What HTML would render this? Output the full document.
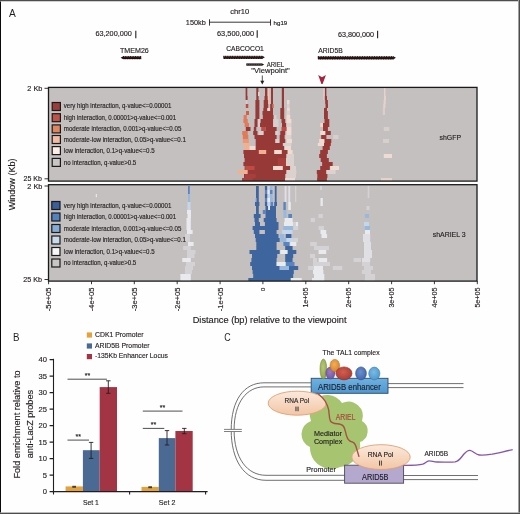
<!DOCTYPE html>
<html><head><meta charset="utf-8">
<style>
html,body{margin:0;padding:0;background:#fff;overflow:hidden;}
svg{display:block;font-family:"Liberation Sans",sans-serif;will-change:transform;}
text{font-family:"Liberation Sans",sans-serif;fill:#231f20;stroke:#231f20;stroke-width:0.15px;}
</style></head><body>
<svg width="520" height="514" viewBox="0 0 520 514">
<rect x="0" y="0" width="520" height="514" fill="#fefefe"/>

<!-- ===== PANEL A header ===== -->
<text style="stroke:none" x="9" y="16.7" font-size="10.5" textLength="6.8" lengthAdjust="spacingAndGlyphs">A</text>
<text x="230.3" y="14.2" font-size="7.2" textLength="18.9" lengthAdjust="spacingAndGlyphs">chr10</text>
<text x="185.8" y="25" font-size="7.6" textLength="20" lengthAdjust="spacingAndGlyphs">150kb</text>
<g stroke="#231f20" stroke-width="0.9" fill="none">
<line x1="209.5" y1="22.2" x2="270.5" y2="22.2"/>
<line x1="209.5" y1="19.3" x2="209.5" y2="25.6"/>
<line x1="270.5" y1="19.3" x2="270.5" y2="25.6"/>
</g>
<text x="273.6" y="24.6" font-size="6" textLength="13.7" lengthAdjust="spacingAndGlyphs">hg19</text>

<text x="95.4" y="36.3" font-size="7.2" textLength="36.5" lengthAdjust="spacingAndGlyphs">63,200,000</text>
<text x="217" y="36" font-size="7.2" textLength="37" lengthAdjust="spacingAndGlyphs">63,500,000</text>
<text x="338" y="36.5" font-size="7.2" textLength="36" lengthAdjust="spacingAndGlyphs">63,800,000</text>
<g stroke="#231f20" stroke-width="1.1">
<line x1="135.8" y1="30.8" x2="135.8" y2="38.2"/>
<line x1="257.2" y1="30.3" x2="257.2" y2="37.7"/>
<line x1="377.6" y1="30.8" x2="377.6" y2="38.2"/>
</g>

<text x="120" y="53.2" font-size="7.3" textLength="28.8" lengthAdjust="spacingAndGlyphs">TMEM26</text>
<text x="226.3" y="51.3" font-size="7.3" textLength="37.5" lengthAdjust="spacingAndGlyphs">CABCOCO1</text>
<text x="318.3" y="53.2" font-size="7.3" textLength="24.4" lengthAdjust="spacingAndGlyphs">ARID5B</text>

<!-- gene bars -->
<rect x="123.0" y="56.80" width="18.2" height="2.2" fill="#3a1517"/>
<line x1="123.0" y1="56.65" x2="141.2" y2="56.65" stroke="#0c0404" stroke-width="1" stroke-dasharray="1.2 0.5"/>
<line x1="123.5" y1="58.75" x2="141.2" y2="58.75" stroke="#0c0404" stroke-width="1" stroke-dasharray="1.2 0.5"/>
<path d="M123.3 56.20 L120.6 57.70 L123.3 59.20 Z" fill="#1a0c0c"/>
<rect x="223.3" y="56.45" width="39.2" height="2.2" fill="#3a1517"/>
<line x1="223.3" y1="56.30" x2="262.5" y2="56.30" stroke="#0c0404" stroke-width="1" stroke-dasharray="1.2 0.5"/>
<line x1="223.8" y1="58.40" x2="262.5" y2="58.40" stroke="#0c0404" stroke-width="1" stroke-dasharray="1.2 0.5"/>
<path d="M262.2 55.85 L264.9 57.35 L262.2 58.85 Z" fill="#1a0c0c"/>
<rect x="317.8" y="56.95" width="75.7" height="2.2" fill="#3a1517"/>
<line x1="317.8" y1="56.70" x2="393.5" y2="56.70" stroke="#0c0404" stroke-width="1" stroke-dasharray="1.2 0.5"/>
<line x1="318.3" y1="59.00" x2="393.5" y2="59.00" stroke="#0c0404" stroke-width="1" stroke-dasharray="1.2 0.5"/>
<path d="M393.2 56.25 L395.9 57.85 L393.2 59.45 Z" fill="#1a0c0c"/>
<rect x="246.3" y="63.4" width="15.5" height="2.3" fill="#1e1414"/>
<line x1="247" y1="64.55" x2="261" y2="64.55" stroke="#6a6060" stroke-width="0.7" stroke-dasharray="1.2 0.6"/>
<path d="M261.6 63.2 L264.2 64.55 L261.6 65.9 Z" fill="#1e1414"/>
<text x="266.7" y="67" font-size="7" textLength="17.3" lengthAdjust="spacingAndGlyphs">ARIEL</text>
<text x="251.3" y="73" font-size="7.2" textLength="38.5" lengthAdjust="spacingAndGlyphs">"Viewpoint"</text>
<line x1="262.3" y1="75.5" x2="262.3" y2="83" stroke="#231f20" stroke-width="0.8"/>
<path d="M260.3 80.8 L262.3 84.4 L264.3 80.8 Z" fill="#231f20"/>
<!-- red chevron -->
<path d="M318.2 74.9 L322 77.3 L325.9 74.9 L322.6 84.1 L321.4 84.1 Z" fill="#a8203a"/>

<!-- ===== heatmap boxes ===== -->
<clipPath id="c1"><rect x="48.5" y="87.4" width="428.5" height="93.7"/></clipPath>
<clipPath id="c2"><rect x="48.5" y="184.7" width="428.5" height="96.4"/></clipPath>
<g id="hm1" clip-path="url(#c1)">
<rect x="48.5" y="87.4" width="428.5" height="93.7" fill="#c5c0c0"/>
<!--HM1-->
<rect x="245.6" y="88" width="1.7" height="4" fill="#973a37"/>
<rect x="256.3" y="88" width="2.1" height="4" fill="#973a37"/>
<rect x="265.0" y="88" width="2.4" height="4" fill="#973a37"/>
<rect x="267.8" y="88" width="1.5" height="4" fill="#eec6b2"/>
<rect x="271.0" y="88" width="2.0" height="4" fill="#973a37"/>
<rect x="281.8" y="88" width="2.2" height="4" fill="#973a37"/>
<rect x="324.8" y="88" width="1.6" height="4" fill="#973a37"/>
<rect x="323.6" y="88" width="0.9" height="4" fill="#eedcd3"/>
<rect x="384.0" y="88" width="1.5" height="4" fill="#e6d2c8"/>
<rect x="245.6" y="92" width="1.7" height="4" fill="#973a37"/>
<rect x="256.3" y="92" width="1.9" height="4" fill="#973a37"/>
<rect x="258.2" y="92" width="1.2" height="4" fill="#eedcd3"/>
<rect x="265.0" y="92" width="2.4" height="4" fill="#973a37"/>
<rect x="267.8" y="92" width="1.5" height="4" fill="#eec6b2"/>
<rect x="271.0" y="92" width="2.0" height="4" fill="#973a37"/>
<rect x="281.8" y="92" width="2.2" height="4" fill="#973a37"/>
<rect x="324.8" y="92" width="1.6" height="4" fill="#973a37"/>
<rect x="323.6" y="92" width="0.9" height="4" fill="#eedcd3"/>
<rect x="384.0" y="92" width="1.5" height="4" fill="#e6d2c8"/>
<rect x="245.6" y="96" width="2.0" height="4" fill="#973a37"/>
<rect x="256.3" y="96" width="2.3" height="4" fill="#973a37"/>
<rect x="264.5" y="96" width="3.3" height="4" fill="#973a37"/>
<rect x="267.8" y="96" width="1.5" height="4" fill="#eec6b2"/>
<rect x="271.0" y="96" width="2.0" height="4" fill="#973a37"/>
<rect x="281.8" y="96" width="2.2" height="4" fill="#973a37"/>
<rect x="324.5" y="96" width="2.5" height="4" fill="#973a37"/>
<rect x="323.6" y="96" width="0.9" height="4" fill="#eedcd3"/>
<rect x="384.0" y="96" width="2.0" height="4" fill="#e6d2c8"/>
<rect x="245.8" y="100" width="1.5" height="4" fill="#d6cfcd"/>
<rect x="255.4" y="100" width="4.0" height="4" fill="#973a37"/>
<rect x="263.7" y="100" width="4.5" height="4" fill="#973a37"/>
<rect x="268.2" y="100" width="1.4" height="4" fill="#eec6b2"/>
<rect x="271.0" y="100" width="2.0" height="4" fill="#973a37"/>
<rect x="281.8" y="100" width="2.2" height="4" fill="#973a37"/>
<rect x="287.0" y="100" width="2.5" height="4" fill="#eedcd3"/>
<rect x="325.2" y="100" width="2.7" height="4" fill="#973a37"/>
<rect x="383.6" y="100" width="2.2" height="4" fill="#e6d2c8"/>
<rect x="245.8" y="104" width="2.5" height="4" fill="#bf4b42"/>
<rect x="255.4" y="104" width="4.0" height="4" fill="#973a37"/>
<rect x="263.7" y="104" width="4.5" height="4" fill="#973a37"/>
<rect x="270.2" y="104" width="2.5" height="4" fill="#973a37"/>
<rect x="272.7" y="104" width="1.3" height="4" fill="#e07a58"/>
<rect x="281.8" y="104" width="2.2" height="4" fill="#973a37"/>
<rect x="287.0" y="104" width="2.5" height="4" fill="#dbd1cd"/>
<rect x="325.5" y="104" width="2.5" height="4" fill="#973a37"/>
<rect x="383.2" y="104" width="2.2" height="4" fill="#e6d2c8"/>
<rect x="255.4" y="108" width="4.0" height="3" fill="#973a37"/>
<rect x="263.3" y="108" width="4.1" height="3" fill="#973a37"/>
<rect x="267.4" y="108" width="2.4" height="3" fill="#eedcd3"/>
<rect x="270.2" y="108" width="2.8" height="3" fill="#973a37"/>
<rect x="280.3" y="108" width="3.9" height="3" fill="#973a37"/>
<rect x="287.0" y="108" width="2.8" height="3" fill="#eedcd3"/>
<rect x="324.0" y="108" width="3.0" height="3" fill="#973a37"/>
<rect x="382.8" y="108" width="2.2" height="3" fill="#dccfca"/>
<rect x="246.0" y="111" width="3.0" height="4" fill="#d4603f"/>
<rect x="255.4" y="111" width="4.0" height="4" fill="#973a37"/>
<rect x="262.5" y="111" width="10.5" height="4" fill="#973a37"/>
<rect x="280.3" y="111" width="3.9" height="4" fill="#973a37"/>
<rect x="286.5" y="111" width="3.5" height="4" fill="#dbd1cd"/>
<rect x="324.0" y="111" width="3.9" height="4" fill="#973a37"/>
<rect x="382.8" y="111" width="2.2" height="4" fill="#dccfca"/>
<rect x="243.6" y="115" width="3.2" height="4" fill="#e07a58"/>
<rect x="255.4" y="115" width="4.0" height="4" fill="#973a37"/>
<rect x="262.8" y="115" width="10.7" height="4" fill="#973a37"/>
<rect x="274.0" y="115" width="2.5" height="4" fill="#d6cfcd"/>
<rect x="280.3" y="115" width="3.9" height="4" fill="#973a37"/>
<rect x="286.5" y="115" width="3.7" height="4" fill="#eedcd3"/>
<rect x="324.0" y="115" width="3.9" height="4" fill="#973a37"/>
<rect x="243.4" y="119" width="4.3" height="4" fill="#e07a58"/>
<rect x="254.5" y="119" width="3.0" height="4" fill="#973a37"/>
<rect x="258.0" y="119" width="2.6" height="4" fill="#d6cfcd"/>
<rect x="260.6" y="119" width="12.4" height="4" fill="#973a37"/>
<rect x="273.5" y="119" width="5.0" height="4" fill="#d6cfcd"/>
<rect x="281.5" y="119" width="3.7" height="4" fill="#973a37"/>
<rect x="286.5" y="119" width="4.9" height="4" fill="#eedcd3"/>
<rect x="324.5" y="119" width="4.8" height="4" fill="#973a37"/>
<rect x="244.6" y="123" width="4.4" height="4" fill="#e07a58"/>
<rect x="254.5" y="123" width="3.0" height="4" fill="#973a37"/>
<rect x="258.0" y="123" width="2.0" height="4" fill="#d6cfcd"/>
<rect x="260.0" y="123" width="13.0" height="4" fill="#973a37"/>
<rect x="273.5" y="123" width="5.0" height="4" fill="#d6cfcd"/>
<rect x="282.0" y="123" width="4.0" height="4" fill="#973a37"/>
<rect x="287.0" y="123" width="4.4" height="4" fill="#dbd1cd"/>
<rect x="320.2" y="123" width="2.8" height="4" fill="#f6d6c6"/>
<rect x="323.0" y="123" width="6.3" height="4" fill="#973a37"/>
<rect x="245.8" y="127" width="4.7" height="4" fill="#973a37"/>
<rect x="253.8" y="127" width="2.5" height="4" fill="#973a37"/>
<rect x="261.2" y="127" width="4.3" height="4" fill="#bf4b42"/>
<rect x="265.5" y="127" width="11.1" height="4" fill="#973a37"/>
<rect x="281.5" y="127" width="5.0" height="4" fill="#bf4b42"/>
<rect x="287.0" y="127" width="4.4" height="4" fill="#eedcd3"/>
<rect x="323.0" y="127" width="4.9" height="4" fill="#973a37"/>
<rect x="383.8" y="127" width="5.5" height="4" fill="#d6cfcd"/>
<rect x="242.2" y="131" width="5.5" height="4" fill="#e07a58"/>
<rect x="253.2" y="131" width="4.3" height="4" fill="#973a37"/>
<rect x="258.8" y="131" width="4.9" height="4" fill="#d6cfcd"/>
<rect x="263.7" y="131" width="11.7" height="4" fill="#973a37"/>
<rect x="275.4" y="131" width="3.1" height="4" fill="#d6cfcd"/>
<rect x="280.3" y="131" width="4.9" height="4" fill="#973a37"/>
<rect x="286.5" y="131" width="4.9" height="4" fill="#eedcd3"/>
<rect x="320.2" y="131" width="4.8" height="4" fill="#eedcd3"/>
<rect x="325.5" y="131" width="5.3" height="4" fill="#973a37"/>
<rect x="242.8" y="135" width="5.5" height="4" fill="#e07a58"/>
<rect x="254.5" y="135" width="22.1" height="4" fill="#973a37"/>
<rect x="279.7" y="135" width="4.9" height="4" fill="#973a37"/>
<rect x="285.5" y="135" width="5.9" height="4" fill="#dbd1cd"/>
<rect x="321.2" y="135" width="5.2" height="4" fill="#973a37"/>
<rect x="333.2" y="135" width="5.3" height="4" fill="#d6cfcd"/>
<rect x="242.8" y="139" width="6.1" height="4" fill="#e89878"/>
<rect x="255.7" y="139" width="19.7" height="4" fill="#973a37"/>
<rect x="275.4" y="139" width="3.6" height="4" fill="#d6cfcd"/>
<rect x="279.7" y="139" width="5.5" height="4" fill="#973a37"/>
<rect x="286.5" y="139" width="5.5" height="4" fill="#eedcd3"/>
<rect x="319.2" y="139" width="5.3" height="4" fill="#eedcd3"/>
<rect x="324.5" y="139" width="6.8" height="4" fill="#973a37"/>
<rect x="383.0" y="139" width="6.0" height="4" fill="#d6cfcd"/>
<rect x="243.4" y="143" width="6.1" height="3" fill="#f0b091"/>
<rect x="255.7" y="143" width="27.1" height="3" fill="#973a37"/>
<rect x="283.4" y="143" width="8.0" height="3" fill="#dbd1cd"/>
<rect x="317.8" y="143" width="6.2" height="3" fill="#eedcd3"/>
<rect x="324.0" y="143" width="6.8" height="3" fill="#973a37"/>
<rect x="244.6" y="146" width="4.9" height="4" fill="#f0b091"/>
<rect x="249.5" y="146" width="6.2" height="4" fill="#eedcd3"/>
<rect x="255.7" y="146" width="28.3" height="4" fill="#973a37"/>
<rect x="285.0" y="146" width="6.0" height="4" fill="#eedcd3"/>
<rect x="322.6" y="146" width="7.2" height="4" fill="#973a37"/>
<rect x="243.4" y="150" width="44.3" height="4" fill="#973a37"/>
<rect x="258.8" y="150" width="7.4" height="4" fill="#f0b091"/>
<rect x="274.2" y="150" width="7.6" height="4" fill="#eedcd3"/>
<rect x="287.7" y="150" width="4.9" height="4" fill="#eedcd3"/>
<rect x="320.2" y="150" width="7.7" height="4" fill="#973a37"/>
<rect x="244.0" y="154" width="42.5" height="4" fill="#973a37"/>
<rect x="286.5" y="154" width="7.5" height="4" fill="#dbd1cd"/>
<rect x="319.2" y="154" width="7.7" height="4" fill="#973a37"/>
<rect x="383.8" y="154" width="8.2" height="4" fill="#eedcd3"/>
<rect x="244.6" y="158" width="41.4" height="4" fill="#973a37"/>
<rect x="277.8" y="158" width="8.0" height="4" fill="#a83f3d"/>
<rect x="286.0" y="158" width="8.0" height="4" fill="#dbd1cd"/>
<rect x="320.7" y="158" width="8.1" height="4" fill="#973a37"/>
<rect x="243.4" y="162" width="42.4" height="4" fill="#973a37"/>
<rect x="277.8" y="162" width="8.0" height="4" fill="#a83f3d"/>
<rect x="286.0" y="162" width="8.0" height="4" fill="#dbd1cd"/>
<rect x="322.1" y="162" width="10.6" height="4" fill="#973a37"/>
<rect x="244.6" y="166" width="45.6" height="4" fill="#973a37"/>
<rect x="245.2" y="166" width="9.3" height="4" fill="#bf4b42"/>
<rect x="273.0" y="166" width="9.8" height="4" fill="#eedcd3"/>
<rect x="290.2" y="166" width="5.8" height="4" fill="#dbd1cd"/>
<rect x="320.2" y="166" width="9.6" height="4" fill="#973a37"/>
<rect x="330.3" y="166" width="8.7" height="4" fill="#eedcd3"/>
<rect x="237.8" y="170" width="9.9" height="4" fill="#f0b091"/>
<rect x="247.7" y="170" width="38.8" height="4" fill="#973a37"/>
<rect x="286.5" y="170" width="9.8" height="4" fill="#dbd1cd"/>
<rect x="316.8" y="170" width="9.6" height="4" fill="#973a37"/>
<rect x="326.4" y="170" width="9.2" height="4" fill="#dbd1cd"/>
<rect x="244.0" y="174" width="41.2" height="4" fill="#973a37"/>
<rect x="245.0" y="174" width="10.7" height="4" fill="#a83f3d"/>
<rect x="286.0" y="174" width="10.0" height="4" fill="#dbd1cd"/>
<rect x="317.3" y="174" width="10.1" height="4" fill="#973a37"/>
<rect x="242.2" y="178" width="43.0" height="4" fill="#973a37"/>
<rect x="242.2" y="178" width="10.4" height="4" fill="#a83f3d"/>
<rect x="285.2" y="178" width="9.8" height="4" fill="#eedcd3"/>
<rect x="317.1" y="178" width="9.8" height="4" fill="#973a37"/>
<rect x="381.0" y="178" width="11.0" height="4" fill="#e6d2c8"/>
<!--/HM1-->
</g>
<g id="hm2" clip-path="url(#c2)">
<rect x="48.5" y="184.7" width="428.5" height="96.4" fill="#c5c0c0"/>
<!--HM2-->
<rect x="256.0" y="186" width="2.8" height="4" fill="#3f659f"/>
<rect x="264.9" y="186" width="2.3" height="4" fill="#3f659f"/>
<rect x="267.6" y="186" width="2.0" height="4" fill="#c4d6ec"/>
<rect x="270.0" y="186" width="2.5" height="4" fill="#98b8dc"/>
<rect x="274.8" y="186" width="1.8" height="4" fill="#3f659f"/>
<rect x="284.6" y="186" width="1.9" height="4" fill="#dfdfe4"/>
<rect x="288.3" y="186" width="1.9" height="4" fill="#dfdfe4"/>
<rect x="295.0" y="186" width="1.3" height="4" fill="#d4d2d5"/>
<rect x="188.0" y="186" width="1.8" height="4" fill="#5a84c0"/>
<rect x="320.0" y="186" width="2.0" height="4" fill="#d4d2d5"/>
<rect x="367.7" y="186" width="1.6" height="4" fill="#d4d2d5"/>
<rect x="256.0" y="190" width="2.8" height="4" fill="#3f659f"/>
<rect x="264.9" y="190" width="2.3" height="4" fill="#5a84c0"/>
<rect x="267.6" y="190" width="2.0" height="4" fill="#e9eaee"/>
<rect x="270.0" y="190" width="2.5" height="4" fill="#5a84c0"/>
<rect x="274.8" y="190" width="1.8" height="4" fill="#3f659f"/>
<rect x="284.6" y="190" width="1.9" height="4" fill="#dfdfe4"/>
<rect x="288.3" y="190" width="1.9" height="4" fill="#dfdfe4"/>
<rect x="295.0" y="190" width="1.3" height="4" fill="#d4d2d5"/>
<rect x="188.0" y="190" width="1.8" height="4" fill="#5a84c0"/>
<rect x="367.7" y="190" width="1.6" height="4" fill="#d4d2d5"/>
<rect x="256.0" y="194" width="2.8" height="4" fill="#3f659f"/>
<rect x="264.9" y="194" width="2.5" height="4" fill="#3f659f"/>
<rect x="267.6" y="194" width="2.4" height="4" fill="#c4d6ec"/>
<rect x="270.0" y="194" width="2.5" height="4" fill="#98b8dc"/>
<rect x="274.8" y="194" width="1.8" height="4" fill="#3f659f"/>
<rect x="284.6" y="194" width="1.9" height="4" fill="#dfdfe4"/>
<rect x="288.3" y="194" width="1.9" height="4" fill="#dfdfe4"/>
<rect x="295.0" y="194" width="1.3" height="4" fill="#d4d2d5"/>
<rect x="188.0" y="194" width="2.0" height="4" fill="#98b8dc"/>
<rect x="367.7" y="194" width="1.6" height="4" fill="#d4d2d5"/>
<rect x="255.0" y="198" width="1.5" height="4" fill="#98b8dc"/>
<rect x="256.5" y="198" width="2.3" height="4" fill="#3f659f"/>
<rect x="264.9" y="198" width="2.5" height="4" fill="#5a84c0"/>
<rect x="267.4" y="198" width="2.6" height="4" fill="#e9eaee"/>
<rect x="270.0" y="198" width="2.9" height="4" fill="#98b8dc"/>
<rect x="274.8" y="198" width="1.8" height="4" fill="#3f659f"/>
<rect x="284.6" y="198" width="1.9" height="4" fill="#dfdfe4"/>
<rect x="288.3" y="198" width="1.9" height="4" fill="#dfdfe4"/>
<rect x="295.0" y="198" width="1.3" height="4" fill="#d4d2d5"/>
<rect x="188.0" y="198" width="2.0" height="4" fill="#98b8dc"/>
<rect x="320.5" y="198" width="2.3" height="4" fill="#e9eaee"/>
<rect x="255.0" y="202" width="4.4" height="4" fill="#3f659f"/>
<rect x="264.9" y="202" width="2.5" height="4" fill="#3f659f"/>
<rect x="267.4" y="202" width="3.1" height="4" fill="#c4d6ec"/>
<rect x="270.5" y="202" width="2.5" height="4" fill="#5a84c0"/>
<rect x="274.2" y="202" width="2.8" height="4" fill="#3f659f"/>
<rect x="283.4" y="202" width="2.4" height="4" fill="#5a84c0"/>
<rect x="288.3" y="202" width="2.5" height="4" fill="#e9eaee"/>
<rect x="187.5" y="202" width="3.0" height="4" fill="#c4d6ec"/>
<rect x="320.5" y="202" width="2.3" height="4" fill="#e9eaee"/>
<rect x="256.0" y="206" width="2.8" height="4" fill="#3f659f"/>
<rect x="265.5" y="206" width="2.7" height="4" fill="#3f659f"/>
<rect x="268.2" y="206" width="1.8" height="4" fill="#e9eaee"/>
<rect x="270.0" y="206" width="6.0" height="4" fill="#3f659f"/>
<rect x="283.4" y="206" width="2.4" height="4" fill="#5a84c0"/>
<rect x="288.3" y="206" width="2.5" height="4" fill="#e9eaee"/>
<rect x="187.5" y="206" width="3.0" height="4" fill="#c4d6ec"/>
<rect x="366.5" y="206" width="3.0" height="4" fill="#d4d2d5"/>
<rect x="256.0" y="210" width="2.8" height="4" fill="#3f659f"/>
<rect x="262.8" y="210" width="2.7" height="4" fill="#5a84c0"/>
<rect x="265.5" y="210" width="10.5" height="4" fill="#3f659f"/>
<rect x="283.4" y="210" width="3.1" height="4" fill="#98b8dc"/>
<rect x="187.0" y="210" width="4.0" height="4" fill="#e9eaee"/>
<rect x="253.8" y="214" width="6.8" height="4" fill="#3f659f"/>
<rect x="265.5" y="214" width="10.5" height="4" fill="#3f659f"/>
<rect x="283.4" y="214" width="3.1" height="4" fill="#98b8dc"/>
<rect x="288.3" y="214" width="3.7" height="4" fill="#5a84c0"/>
<rect x="187.5" y="214" width="3.5" height="4" fill="#e9eaee"/>
<rect x="364.9" y="214" width="4.1" height="4" fill="#98b8dc"/>
<rect x="318.5" y="214" width="4.3" height="4" fill="#d4d2d5"/>
<rect x="254.5" y="218" width="4.3" height="4" fill="#3f659f"/>
<rect x="263.7" y="218" width="12.9" height="4" fill="#3f659f"/>
<rect x="284.6" y="218" width="8.0" height="4" fill="#e9eaee"/>
<rect x="186.5" y="218" width="4.3" height="4" fill="#e9eaee"/>
<rect x="310.7" y="218" width="4.2" height="4" fill="#d4d2d5"/>
<rect x="255.0" y="222" width="5.0" height="4" fill="#3f659f"/>
<rect x="264.9" y="222" width="13.6" height="4" fill="#3f659f"/>
<rect x="284.0" y="222" width="9.2" height="4" fill="#e9eaee"/>
<rect x="293.2" y="222" width="5.0" height="4" fill="#d4d2d5"/>
<rect x="186.5" y="222" width="4.3" height="4" fill="#e9eaee"/>
<rect x="364.0" y="222" width="5.0" height="4" fill="#c4d6ec"/>
<rect x="296.0" y="222" width="2.0" height="4" fill="#e9eaee"/>
<rect x="252.6" y="226" width="25.9" height="4" fill="#3f659f"/>
<rect x="283.4" y="226" width="9.8" height="4" fill="#98b8dc"/>
<rect x="293.2" y="226" width="5.0" height="4" fill="#d4d2d5"/>
<rect x="186.5" y="226" width="4.3" height="4" fill="#e9eaee"/>
<rect x="365.0" y="226" width="5.0" height="4" fill="#98b8dc"/>
<rect x="318.6" y="226" width="5.4" height="4" fill="#d4d2d5"/>
<rect x="253.8" y="230" width="5.6" height="4" fill="#3f659f"/>
<rect x="264.9" y="230" width="11.7" height="4" fill="#3f659f"/>
<rect x="282.2" y="230" width="10.4" height="4" fill="#c4d6ec"/>
<rect x="187.0" y="230" width="5.6" height="4" fill="#e9eaee"/>
<rect x="320.5" y="230" width="5.7" height="4" fill="#e9eaee"/>
<rect x="365.0" y="230" width="5.0" height="4" fill="#e9eaee"/>
<rect x="255.0" y="234" width="23.5" height="4" fill="#3f659f"/>
<rect x="279.7" y="234" width="4.3" height="4" fill="#98b8dc"/>
<rect x="285.8" y="234" width="5.6" height="4" fill="#3f659f"/>
<rect x="185.0" y="234" width="5.0" height="4" fill="#d4d2d5"/>
<rect x="321.5" y="234" width="5.6" height="4" fill="#e9eaee"/>
<rect x="363.0" y="234" width="7.2" height="4" fill="#dfdfe4"/>
<rect x="255.7" y="238" width="24.0" height="4" fill="#3f659f"/>
<rect x="280.3" y="238" width="6.2" height="4" fill="#98b8dc"/>
<rect x="286.5" y="238" width="6.7" height="4" fill="#c4d6ec"/>
<rect x="293.2" y="238" width="4.8" height="4" fill="#d4d2d5"/>
<rect x="185.0" y="238" width="5.0" height="4" fill="#d4d2d5"/>
<rect x="363.0" y="238" width="7.2" height="4" fill="#dfdfe4"/>
<rect x="256.3" y="242" width="20.3" height="4" fill="#3f659f"/>
<rect x="283.4" y="242" width="6.1" height="4" fill="#5a84c0"/>
<rect x="290.2" y="242" width="6.1" height="4" fill="#e9eaee"/>
<rect x="188.0" y="242" width="5.6" height="4" fill="#e9eaee"/>
<rect x="310.2" y="242" width="6.6" height="4" fill="#d4d2d5"/>
<rect x="364.0" y="242" width="7.0" height="4" fill="#dfdfe4"/>
<rect x="256.3" y="246" width="20.3" height="4" fill="#3f659f"/>
<rect x="285.2" y="246" width="7.4" height="4" fill="#3f659f"/>
<rect x="183.2" y="246" width="7.6" height="4" fill="#d4d2d5"/>
<rect x="314.0" y="246" width="15.0" height="4" fill="#d4d2d5"/>
<rect x="364.0" y="246" width="7.0" height="4" fill="#dfdfe4"/>
<rect x="249.5" y="250" width="30.2" height="4" fill="#3f659f"/>
<rect x="280.3" y="250" width="7.4" height="4" fill="#e9eaee"/>
<rect x="287.7" y="250" width="8.6" height="4" fill="#3f659f"/>
<rect x="187.0" y="250" width="8.5" height="4" fill="#d4d2d5"/>
<rect x="318.6" y="250" width="7.6" height="4" fill="#e9eaee"/>
<rect x="364.0" y="250" width="8.0" height="4" fill="#dfdfe4"/>
<rect x="252.0" y="254" width="25.2" height="4" fill="#3f659f"/>
<rect x="285.2" y="254" width="8.0" height="4" fill="#3f659f"/>
<rect x="187.0" y="254" width="7.5" height="4" fill="#d4d2d5"/>
<rect x="310.0" y="254" width="5.0" height="4" fill="#d4d2d5"/>
<rect x="364.0" y="254" width="8.0" height="4" fill="#dfdfe4"/>
<rect x="251.4" y="258" width="25.2" height="4" fill="#3f659f"/>
<rect x="285.2" y="258" width="7.4" height="4" fill="#3f659f"/>
<rect x="182.3" y="258" width="8.5" height="4" fill="#e9eaee"/>
<rect x="313.0" y="258" width="4.0" height="4" fill="#d4d2d5"/>
<rect x="318.6" y="258" width="8.5" height="4" fill="#e9eaee"/>
<rect x="353.5" y="258" width="7.5" height="4" fill="#d4d2d5"/>
<rect x="362.0" y="258" width="8.2" height="4" fill="#dfdfe4"/>
<rect x="250.2" y="262" width="26.4" height="4" fill="#3f659f"/>
<rect x="276.6" y="262" width="9.2" height="4" fill="#e9eaee"/>
<rect x="285.8" y="262" width="8.7" height="4" fill="#5a84c0"/>
<rect x="186.0" y="262" width="9.0" height="4" fill="#d4d2d5"/>
<rect x="313.0" y="262" width="17.0" height="4" fill="#d4d2d5"/>
<rect x="362.0" y="262" width="8.0" height="4" fill="#d4d2d5"/>
<rect x="252.0" y="266" width="27.7" height="4" fill="#3f659f"/>
<rect x="279.7" y="266" width="9.3" height="4" fill="#98b8dc"/>
<rect x="289.0" y="266" width="9.2" height="4" fill="#3f659f"/>
<rect x="185.0" y="266" width="8.0" height="4" fill="#d4d2d5"/>
<rect x="308.0" y="266" width="6.0" height="4" fill="#d4d2d5"/>
<rect x="314.0" y="266" width="9.0" height="4" fill="#e9eaee"/>
<rect x="332.8" y="266" width="9.4" height="4" fill="#d4d2d5"/>
<rect x="364.0" y="266" width="9.0" height="4" fill="#d4d2d5"/>
<rect x="252.6" y="270" width="41.2" height="4" fill="#3f659f"/>
<rect x="185.0" y="270" width="7.0" height="4" fill="#d4d2d5"/>
<rect x="313.0" y="270" width="10.4" height="4" fill="#e9eaee"/>
<rect x="362.0" y="270" width="9.0" height="4" fill="#d4d2d5"/>
<rect x="253.2" y="274" width="40.0" height="4" fill="#3f659f"/>
<rect x="180.4" y="274" width="10.4" height="4" fill="#e9eaee"/>
<rect x="314.0" y="274" width="10.3" height="4" fill="#e9eaee"/>
<rect x="365.0" y="274" width="10.0" height="4" fill="#d4d2d5"/>
<rect x="248.3" y="278" width="42.5" height="4" fill="#3f659f"/>
<rect x="290.8" y="278" width="9.2" height="4" fill="#e9eaee"/>
<rect x="296.0" y="278" width="5.7" height="4" fill="#e9eaee"/>
<rect x="180.4" y="278" width="10.4" height="4" fill="#e9eaee"/>
<rect x="312.0" y="278" width="12.3" height="4" fill="#e9eaee"/>
<rect x="365.0" y="278" width="10.0" height="4" fill="#d4d2d5"/>
<rect x="95.8" y="194" width="1" height="3.2" fill="#eef0f4"/>
<!--/HM2-->
</g>
<rect x="48.5" y="87.4" width="428.5" height="93.7" fill="none" stroke="#1a1a1a" stroke-width="1.3"/>
<rect x="48.5" y="184.7" width="428.5" height="96.4" fill="none" stroke="#1a1a1a" stroke-width="1.3"/>

<!-- y axis labels -->
<g stroke="#231f20" stroke-width="0.9">
<line x1="44.5" y1="88.3" x2="48" y2="88.3"/>
<line x1="44.5" y1="178.8" x2="48" y2="178.8"/>
<line x1="44.5" y1="186" x2="48" y2="186"/>
<line x1="44.5" y1="279.5" x2="48" y2="279.5"/>
</g>
<text x="27.3" y="91.2" font-size="7.3" textLength="15" lengthAdjust="spacingAndGlyphs">2 Kb</text>
<text x="23.5" y="181" font-size="7.3" textLength="18.4" lengthAdjust="spacingAndGlyphs">25 Kb</text>
<text x="27.3" y="188.5" font-size="7.3" textLength="15" lengthAdjust="spacingAndGlyphs">2 Kb</text>
<text x="23.3" y="282" font-size="7.3" textLength="18.8" lengthAdjust="spacingAndGlyphs">25 Kb</text>
<text transform="translate(15.3 210.3) rotate(-90)" font-size="9.3" textLength="51.8" lengthAdjust="spacingAndGlyphs">Window (Kb)</text>

<text x="439.5" y="140.2" font-size="7.5" textLength="21.5" lengthAdjust="spacingAndGlyphs">shGFP</text>
<text x="432.7" y="236.8" font-size="7.5" textLength="32.9" lengthAdjust="spacingAndGlyphs">shARIEL 3</text>

<!-- legends -->
<g stroke="#1a1a1a" stroke-width="1.2">
<rect x="52.2" y="102.5" width="8.2" height="8" fill="#9b3b3b"/>
<rect x="52.2" y="113.7" width="8.2" height="8" fill="#c0524a"/>
<rect x="52.2" y="124.9" width="8.2" height="8" fill="#e08462"/>
<rect x="52.2" y="135.5" width="8.2" height="8" fill="#f2bba4"/>
<rect x="52.2" y="146.6" width="8.2" height="8" fill="#fcefe7"/>
<rect x="52.2" y="158.4" width="8.2" height="8" fill="#c9c5c5"/>

<rect x="51.8" y="201.5" width="8.2" height="8" fill="#3b5f99"/>
<rect x="51.8" y="213" width="8.2" height="8" fill="#5482c0"/>
<rect x="51.8" y="224.5" width="8.2" height="8" fill="#85abd8"/>
<rect x="51.8" y="236" width="8.2" height="8" fill="#c8d9ec"/>
<rect x="51.8" y="247.5" width="8.2" height="8" fill="#f6f6f7"/>
<rect x="51.8" y="259" width="8.2" height="8" fill="#c9c5c5"/>
</g>
<g font-size="6.6">
<text x="63.8" y="108.3" textLength="107.5" lengthAdjust="spacingAndGlyphs">very high interaction, q-value&lt;=0.00001</text>
<text x="63.8" y="119.5" textLength="112.3" lengthAdjust="spacingAndGlyphs">high interaction, 0.00001&gt;q-value&lt;=0.001</text>
<text x="63.8" y="130.8" textLength="117.5" lengthAdjust="spacingAndGlyphs">moderate interaction, 0.001&gt;q-value&lt;=0.05</text>
<text x="63.8" y="141.6" textLength="122" lengthAdjust="spacingAndGlyphs">moderate-low interaction, 0.05&gt;q-value&lt;=0.1</text>
<text x="63.8" y="152.9" textLength="90.8" lengthAdjust="spacingAndGlyphs">low interaction, 0.1&gt;q-value&lt;=0.5</text>
<text x="63.8" y="164.5" textLength="72.5" lengthAdjust="spacingAndGlyphs">no interaction, q-value&gt;0.5</text>

<text x="63.8" y="207.7" textLength="107.5" lengthAdjust="spacingAndGlyphs">very high interaction, q-value&lt;=0.00001</text>
<text x="63.8" y="219.2" textLength="112.3" lengthAdjust="spacingAndGlyphs">high interaction, 0.00001&gt;q-value&lt;=0.001</text>
<text x="63.8" y="230.7" textLength="117.5" lengthAdjust="spacingAndGlyphs">moderate interaction, 0.001&gt;q-value&lt;=0.05</text>
<text x="63.8" y="242.2" textLength="122" lengthAdjust="spacingAndGlyphs">moderate-low interaction, 0.05&gt;q-value&lt;=0.1</text>
<text x="63.8" y="253.7" textLength="90.8" lengthAdjust="spacingAndGlyphs">low interaction, 0.1&gt;q-value&lt;=0.5</text>
<text x="63.8" y="265.2" textLength="72.5" lengthAdjust="spacingAndGlyphs">no interaction, q-value&gt;0.5</text>
</g>

<!-- x axis ticks -->
<g id="xt" stroke="#231f20" stroke-width="0.9">
<line x1="48.6" y1="281" x2="48.6" y2="284.2"/>
<line x1="91.5" y1="281" x2="91.5" y2="284.2"/>
<line x1="134.3" y1="281" x2="134.3" y2="284.2"/>
<line x1="177.2" y1="281" x2="177.2" y2="284.2"/>
<line x1="220.1" y1="281" x2="220.1" y2="284.2"/>
<line x1="262.9" y1="281" x2="262.9" y2="284.2"/>
<line x1="305.8" y1="281" x2="305.8" y2="284.2"/>
<line x1="348.7" y1="281" x2="348.7" y2="284.2"/>
<line x1="391.6" y1="281" x2="391.6" y2="284.2"/>
<line x1="434.4" y1="281" x2="434.4" y2="284.2"/>
<line x1="477.3" y1="281" x2="477.3" y2="284.2"/>
</g>
<g id="xl" font-size="7.2">
<text transform="translate(51.1 287.6) rotate(-90)" text-anchor="end" textLength="23.6" lengthAdjust="spacingAndGlyphs">-5e+05</text>
<text transform="translate(94.0 287.6) rotate(-90)" text-anchor="end" textLength="23.6" lengthAdjust="spacingAndGlyphs">-4e+05</text>
<text transform="translate(136.8 287.6) rotate(-90)" text-anchor="end" textLength="23.6" lengthAdjust="spacingAndGlyphs">-3e+05</text>
<text transform="translate(179.7 287.6) rotate(-90)" text-anchor="end" textLength="23.6" lengthAdjust="spacingAndGlyphs">-2e+05</text>
<text transform="translate(222.6 287.6) rotate(-90)" text-anchor="end" textLength="23.6" lengthAdjust="spacingAndGlyphs">-1e+05</text>
<text transform="translate(265.1 287.6) rotate(-90)" text-anchor="end" font-size="6">0</text>
<text transform="translate(308.3 287.6) rotate(-90)" text-anchor="end" textLength="20" lengthAdjust="spacingAndGlyphs">1e+05</text>
<text transform="translate(351.2 287.6) rotate(-90)" text-anchor="end" textLength="20" lengthAdjust="spacingAndGlyphs">2e+05</text>
<text transform="translate(394.1 287.6) rotate(-90)" text-anchor="end" textLength="20" lengthAdjust="spacingAndGlyphs">3e+05</text>
<text transform="translate(436.9 287.6) rotate(-90)" text-anchor="end" textLength="20" lengthAdjust="spacingAndGlyphs">4e+05</text>
<text transform="translate(479.8 287.6) rotate(-90)" text-anchor="end" textLength="20" lengthAdjust="spacingAndGlyphs">5e+05</text>
</g>
<text x="192.7" y="323.3" font-size="8.6" textLength="153.8" lengthAdjust="spacingAndGlyphs">Distance (bp) relative to the viewpoint</text>

<!-- ===== PANEL B ===== -->
<text style="stroke:none" x="13" y="340.8" font-size="11" textLength="6.5" lengthAdjust="spacingAndGlyphs">B</text>
<rect x="86.8" y="332.4" width="5.2" height="5.2" fill="#e4a23a"/>
<rect x="86.8" y="343.4" width="5.2" height="5.2" fill="#4a6a94"/>
<rect x="86.8" y="354" width="5.2" height="5.2" fill="#a33444"/>
<g font-size="7.6">
<text x="95" y="336.9" textLength="48.5" lengthAdjust="spacingAndGlyphs">CDK1 Promoter</text>
<text x="95" y="347.8" textLength="54.6" lengthAdjust="spacingAndGlyphs">ARID5B Promoter</text>
<text x="95" y="358.4" textLength="73" lengthAdjust="spacingAndGlyphs">-135Kb Enhancer Locus</text>
</g>
<!-- bars -->
<rect x="65.6" y="486.4" width="17.3" height="5.2" fill="#e4a23a"/>
<rect x="82.9" y="450.2" width="16.8" height="41.4" fill="#4a6a94"/>
<rect x="99.7" y="387.1" width="17.3" height="104.5" fill="#a33444"/>
<rect x="141.5" y="486.9" width="17.3" height="4.7" fill="#e4a23a"/>
<rect x="158.8" y="438.1" width="16.6" height="53.5" fill="#4a6a94"/>
<rect x="175.4" y="431" width="17.3" height="60.6" fill="#a33444"/>
<!-- error bars -->
<g stroke="#231f20" stroke-width="0.9" fill="none">
<path d="M91.1 442.4V458.4M88.9 442.4H93.3M88.9 458.4H93.3"/>
<path d="M108.3 380.8V393.3M106.1 380.8H110.5M106.1 393.3H110.5"/>
<path d="M167 430.6V445M164.8 430.6H169.2M164.8 445H169.2"/>
<path d="M184.3 428.4V433.7M182.1 428.4H186.5M182.1 433.7H186.5"/>
<path d="M72.3 486.3H76M72.3 487.2H76"/>
<path d="M148.3 486.8H152M148.3 487.7H152"/>
</g>
<!-- significance -->
<g stroke="#3a3a3a" stroke-width="0.9">
<line x1="67.5" y1="379.2" x2="106.9" y2="379.2"/>
<line x1="67.5" y1="440.1" x2="89" y2="440.1"/>
<line x1="142.8" y1="428.4" x2="164.3" y2="428.4"/>
<line x1="142.8" y1="411.1" x2="182.5" y2="411.1"/>
</g>
<g font-size="7" text-anchor="middle">
<text x="87.6" y="378.2">**</text>
<text x="78.2" y="439.1">**</text>
<text x="153.5" y="427.4">**</text>
<text x="162.6" y="410.1">**</text>
</g>
<!-- axes -->
<g stroke="#231f20" stroke-width="1.1" fill="none">
<line x1="53.5" y1="358.8" x2="53.5" y2="492.2"/>
<line x1="53" y1="491.6" x2="207.6" y2="491.6"/>
<path d="M49.6 491.6H53.5M49.6 475.1H53.5M49.6 458.6H53.5M49.6 442.1H53.5M49.6 425.6H53.5M49.6 409.1H53.5M49.6 392.6H53.5M49.6 376.1H53.5M49.6 359.6H53.5"/>
<path d="M53.5 491.6V494.6M129.6 491.6V494.6M205.6 491.6V494.6"/>
</g>
<g font-size="7.6" text-anchor="end">
<text x="47" y="494.2">0</text>
<text x="47" y="477.7">5</text>
<text x="47" y="461.2">10</text>
<text x="47" y="444.7">15</text>
<text x="47" y="428.2">20</text>
<text x="47" y="411.7">25</text>
<text x="47" y="395.2">30</text>
<text x="47" y="378.7">35</text>
<text x="47" y="362.2">40</text>
</g>
<text x="82.9" y="505.1" font-size="8" textLength="15.9" lengthAdjust="spacingAndGlyphs">Set 1</text>
<text x="158.8" y="505.1" font-size="8" textLength="16.6" lengthAdjust="spacingAndGlyphs">Set 2</text>
<text transform="translate(20.4 478.6) rotate(-90)" font-size="9.6" textLength="108.2" lengthAdjust="spacingAndGlyphs">Fold enrichment relative to</text>
<text transform="translate(32.7 458.2) rotate(-90)" font-size="9.6" textLength="68.2" lengthAdjust="spacingAndGlyphs">anti-LacZ probes</text>

<!-- ===== PANEL C ===== -->
<defs>
<linearGradient id="gPol" x1="0" y1="0" x2="0" y2="1">
<stop offset="0" stop-color="#fbe9dc"/><stop offset="1" stop-color="#f2c6a4"/>
</linearGradient>
<radialGradient id="gGreen" cx="0.45" cy="0.4" r="0.6"><stop offset="0" stop-color="#b8c878"/><stop offset="1" stop-color="#8fa64a"/></radialGradient>
<radialGradient id="gOr" cx="0.45" cy="0.4" r="0.6"><stop offset="0" stop-color="#f2ae5a"/><stop offset="1" stop-color="#d8842c"/></radialGradient>
<radialGradient id="gPu" cx="0.45" cy="0.4" r="0.6"><stop offset="0" stop-color="#9a7cc0"/><stop offset="1" stop-color="#7556a0"/></radialGradient>
<radialGradient id="gRe" cx="0.45" cy="0.4" r="0.6"><stop offset="0" stop-color="#d25e50"/><stop offset="1" stop-color="#ab3b34"/></radialGradient>
<radialGradient id="gBl" cx="0.45" cy="0.4" r="0.6"><stop offset="0" stop-color="#6a90d0"/><stop offset="1" stop-color="#4466aa"/></radialGradient>
<radialGradient id="gLb" cx="0.45" cy="0.4" r="0.6"><stop offset="0" stop-color="#78bce6"/><stop offset="1" stop-color="#4f98cc"/></radialGradient>
<linearGradient id="gBox" x1="0" y1="0" x2="0" y2="1"><stop offset="0" stop-color="#6fb1e0"/><stop offset="1" stop-color="#4f98d0"/></linearGradient>
<linearGradient id="gPur" x1="0" y1="0" x2="0" y2="1"><stop offset="0" stop-color="#bfb0d8"/><stop offset="1" stop-color="#a898c4"/></linearGradient>
</defs>
<text style="stroke:none" x="224.2" y="341" font-size="11" textLength="6.4" lengthAdjust="spacingAndGlyphs">C</text>
<text x="322.6" y="355.4" font-size="7.6" textLength="57" lengthAdjust="spacingAndGlyphs">The TAL1 complex</text>

<!-- DNA -->
<g stroke="#606060" stroke-width="0.9" fill="none">
<path d="M311 382.8 H264 C244 382.8 231.2 400 231.2 430 C231.2 460 244 480.3 266 480.3 H345"/>
<path d="M311 386.9 H264 C247 386.9 234.1 402 234.1 430 C234.1 458 247 475.3 266 475.3 H345"/>
<path d="M388 383.6 H463.5 M388 387.6 H463.5"/>
<path d="M403 475.5 H478 M403 479.6 H478"/>
</g>
<rect x="224" y="429.2" width="18" height="2.6" fill="#fff"/>
<g stroke="#606060" stroke-width="0.8">
<line x1="224" y1="429.4" x2="241.8" y2="429.4"/>
<line x1="224" y1="431.5" x2="241.8" y2="431.5"/>
</g>

<!-- mediator cloud -->
<path fill="#a7c570" d="M314 401 A17.5 17.5 0 0 1 342 403 A14.6 14.6 0 0 1 362 421 A11.7 11.7 0 0 1 360 442 A21.8 21.8 0 0 1 340 467 A21.2 21.2 0 0 1 310 447 A13.9 13.9 0 0 1 311 421 A21.6 21.6 0 0 1 314 401 Z"/>

<!-- enhancer box -->
<rect x="311.2" y="378.3" width="76.8" height="15" fill="url(#gBox)" stroke="#2d4a66" stroke-width="0.9"/>
<text x="318" y="389.6" font-size="8.6" textLength="62.8" lengthAdjust="spacingAndGlyphs" style="fill:#1a2330">ARID5B enhancer</text>

<!-- TAL1 proteins -->
<g stroke-width="0.6">
<ellipse cx="323.4" cy="369.1" rx="3.4" ry="10" fill="url(#gGreen)" stroke="#7a8c3c"/>
<ellipse cx="330.4" cy="373.1" rx="4.6" ry="6" fill="url(#gPu)" stroke="#5e4488"/>
<ellipse cx="334.8" cy="365.6" rx="4.8" ry="6.2" fill="url(#gOr)" stroke="#b86e20"/>
<ellipse cx="344" cy="373.4" rx="8" ry="6.5" fill="url(#gRe)" stroke="#8e3028"/>
<ellipse cx="361" cy="373.4" rx="5.4" ry="6.5" fill="url(#gBl)" stroke="#34528c"/>
<ellipse cx="374.3" cy="373.5" rx="5.6" ry="6.4" fill="url(#gLb)" stroke="#3a7cae"/>
</g>

<!-- ARIEL line moved -->
<text x="335.7" y="419.5" font-size="8.5" textLength="19.8" lengthAdjust="spacingAndGlyphs" style="fill:#a8443e;stroke:#a8443e">ARIEL</text>
<text x="313.9" y="435.5" font-size="7.6" textLength="28" lengthAdjust="spacingAndGlyphs">Mediator</text>
<text x="313.9" y="444.3" font-size="7.6" textLength="28.5" lengthAdjust="spacingAndGlyphs">Complex</text>

<!-- RNA Pol II left -->
<ellipse cx="297.2" cy="403.2" rx="29" ry="12" fill="url(#gPol)" stroke="#dfa070" stroke-width="0.9"/>
<text x="284.6" y="402.6" font-size="7.2" textLength="24.5" lengthAdjust="spacingAndGlyphs">RNA Pol</text>
<rect x="295.3" y="406.6" width="1.3" height="4.6" fill="#555"/>
<rect x="297.4" y="406.6" width="1.3" height="4.6" fill="#555"/>

<!-- ARID5B gene box -->
<rect x="344.6" y="465.2" width="59" height="18" fill="#b5a8ce" stroke="#4a4a5a" stroke-width="0.9"/>
<text x="362" y="479.6" font-size="8.4" textLength="26.5" lengthAdjust="spacingAndGlyphs" style="fill:#1c1c28">ARID5B</text>
<text x="306.3" y="472.3" font-size="7.6" textLength="29.6" lengthAdjust="spacingAndGlyphs">Promoter</text>

<!-- mRNA -->
<path d="M400 465.4 C410 465.5 418 465.6 422.7 464.2 C425.5 463.2 426.5 461 429 460.9 C432 460.8 433.5 462 437 462 C445 462 450 462.5 455 461.9 C459.5 461.2 461 457.5 464 454 C466.5 451.2 468 450.2 470 450.4 C473 450.7 475.5 454.6 479.2 455 C483 455.4 488 454.8 492 454.2 C498 453 505 451.3 512.7 449.7" stroke="#8755a8" stroke-width="1.3" fill="none"/>
<text x="424.5" y="456.2" font-size="7.2" textLength="23.6" lengthAdjust="spacingAndGlyphs">ARID5B</text>

<!-- RNA Pol II right -->
<ellipse cx="381" cy="457.1" rx="29.2" ry="12.4" fill="url(#gPol)" stroke="#dfa070" stroke-width="0.9"/>
<text x="367.7" y="456.6" font-size="7.4" textLength="25.6" lengthAdjust="spacingAndGlyphs">RNA Pol</text>
<rect x="379" y="460.6" width="0.9" height="5" fill="#333"/>
<rect x="380.9" y="460.6" width="0.9" height="5" fill="#333"/>
<path d="M317.5 393.2 C321.5 396.5 324 399 325.4 401.5 C327 404.5 328.2 407 328.7 410 C329.3 414 329 418 330.4 421 C332 423.2 334.5 423.6 337 423.8 C340 424 342 424.2 343.6 426.5 C345.3 429 345.6 433 346.6 436 C347.6 439 348.8 441 351 441.5 C353.5 442 355 443 356 446.5 C357 450 358 453 358.9 456.4" stroke="#a45244" stroke-width="1.4" fill="none" stroke-linecap="round"/>

<!-- frame -->
<rect x="0" y="0" width="1" height="514" fill="#0a0a0a"/>
<rect x="0" y="0" width="520" height="1" fill="#4d4d4d"/>
<rect x="0" y="1" width="520" height="1" fill="#b0b0b0" opacity="0.6"/>
<rect x="519" y="0" width="1" height="514" fill="#4d4d4d"/>
<rect x="518" y="0" width="1" height="514" fill="#a0a0a0"/>
<rect x="0" y="513" width="520" height="1" fill="#4d4d4d"/>
<rect x="0" y="512" width="520" height="1" fill="#a0a0a0" opacity="0.7"/>
</svg>
</body></html>
